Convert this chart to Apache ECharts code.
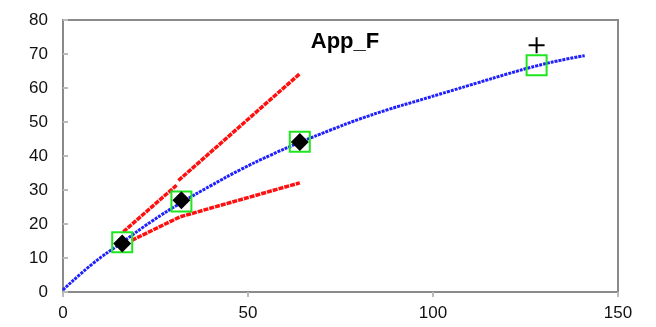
<!DOCTYPE html>
<html>
<head>
<meta charset="utf-8">
<script src="https://cdn.jsdelivr.net/npm/echarts@6/dist/echarts.min.js"></script>
<style>
  html, body { margin: 0; padding: 0; background: #fff; }
  #chart { width: 656px; height: 327px; }
</style>
</head>
<body>
<div id="chart"></div>
<script>
// Fitted curve through the samples
const curveX = [0, 8, 16, 24, 32, 40, 48, 56, 64, 72, 80, 88, 96, 104, 112, 120, 128, 136, 141];
const curveY = [0.6, 8.3, 14.6, 20.8, 26.3, 31.3, 36.0, 40.2, 44.0, 47.5, 50.8, 53.7, 56.3, 58.9, 61.5, 64.1, 66.5, 68.5, 69.5];

// Sample points (open squares) and measured values (diamonds)
const sampleX = [16, 32, 64, 128];
const sampleY = [14.6, 26.6, 44.2, 66.7];
const measX = [16, 32, 64];
const measY = [14.3, 27.0, 44.1];

// Reference point (cross)
const refX = [128];
const refY = [72.6];

// Bound lines
const upperAX = [16.3, 30.7];
const upperAY = [17.7, 31.4];
const upperBX = [31.2, 64];
const upperBY = [32.8, 64.2];
const lowerX = [18.6, 31.6, 64];
const lowerY = [15.2, 22.1, 32.1];

// Axis ticks
const xTicks = [0, 50, 100, 150];
const yTicks = [0, 10, 20, 30, 40, 50, 60, 70, 80];

const pairs = (xs, ys) => xs.map((x, i) => [x, ys[i]]);

const axisGray = '#8a8a8a';
const labelFont = { color: '#111', fontSize: 17, fontFamily: 'Liberation Sans, Arial, sans-serif' };

const chart = echarts.init(document.getElementById('chart'), null, { renderer: 'canvas' });

chart.setOption({
  animation: false,
  backgroundColor: '#fff',
  title: {
    text: 'App_F',
    left: 340,
    textAlign: 'center',
    top: 26,
    textStyle: { fontSize: 22, fontWeight: 'bold', color: '#000', fontFamily: 'Liberation Sans, Arial, sans-serif' }
  },
  grid: {
    left: 63, right: 38, top: 20, bottom: 35,
    show: true, borderColor: axisGray, borderWidth: 2, backgroundColor: 'transparent'
  },
  xAxis: {
    type: 'value',
    min: xTicks[0], max: xTicks[xTicks.length - 1], interval: 50,
    axisLine: { show: true, lineStyle: { color: axisGray, width: 2 } },
    axisTick: { show: true, inside: false, length: 5, lineStyle: { color: '#bbb', width: 2 } },
    axisLabel: Object.assign({ margin: 13 }, labelFont),
    splitLine: { show: false }
  },
  yAxis: {
    type: 'value',
    min: yTicks[0], max: yTicks[yTicks.length - 1], interval: 10,
    axisLine: { show: true, lineStyle: { color: axisGray, width: 2 } },
    axisTick: { show: true, inside: true, length: 5, lineStyle: { color: '#bbb', width: 2 } },
    axisLabel: Object.assign({ margin: 15 }, labelFont),
    splitLine: { show: false }
  },
  series: [
    {
      type: 'line', smooth: 0.5, showSymbol: false, z: 2,
      data: pairs(curveX, curveY),
      lineStyle: { color: '#2020ff', width: 3, type: [3, 1] }
    },
    {
      type: 'line', showSymbol: false, z: 3,
      data: pairs(upperAX, upperAY),
      lineStyle: { color: '#ff1010', width: 3.5, type: [5, 1] }
    },
    {
      type: 'line', showSymbol: false, z: 3,
      data: pairs(upperBX, upperBY),
      lineStyle: { color: '#ff1010', width: 3.5, type: [5, 1] }
    },
    {
      type: 'line', showSymbol: false, z: 3,
      data: pairs(lowerX, lowerY),
      lineStyle: { color: '#ff1010', width: 3.5, type: [5, 1] }
    },
    {
      type: 'scatter', z: 4,
      data: pairs(sampleX, sampleY),
      symbol: 'rect', symbolSize: 20,
      itemStyle: { color: 'rgba(0,0,0,0)', borderColor: '#1ee61e', borderWidth: 2, opacity: 1 }
    },
    {
      type: 'scatter', z: 5,
      data: pairs(measX, measY),
      symbol: 'diamond', symbolSize: 18,
      itemStyle: { color: '#000', opacity: 1 }
    },
    {
      type: 'scatter', z: 5,
      data: pairs(refX, refY),
      symbol: 'path://M0,8L16,8M8,0L8,16', symbolSize: 16,
      itemStyle: { color: 'rgba(0,0,0,0)', borderColor: '#000', borderWidth: 2, opacity: 1 }
    }
  ]
});
</script>
</body>
</html>
